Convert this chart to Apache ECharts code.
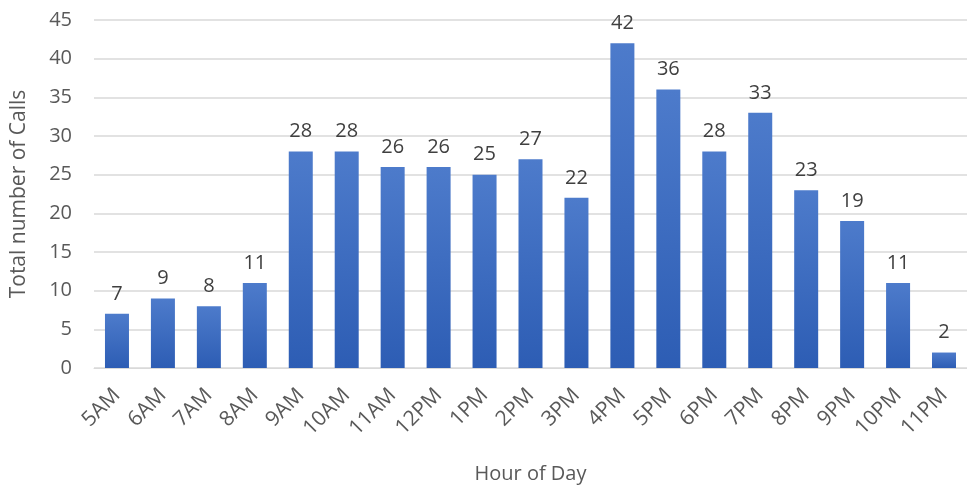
<!DOCTYPE html>
<html>
<head>
<meta charset="utf-8">
<script src="https://cdn.jsdelivr.net/npm/echarts@6/dist/echarts.min.js"></script>
<style>html,body{margin:0;padding:0;background:#fff}#c{width:967px;height:491px}</style>
</head>
<body>
<div id="c"></div>
<script>
const categories = ['5AM','6AM','7AM','8AM','9AM','10AM','11AM','12PM','1PM','2PM','3PM','4PM','5PM','6PM','7PM','8PM','9PM','10PM','11PM'];
const calls = [7,9,8,11,28,28,26,26,25,27,22,42,36,28,33,23,19,11,2];
const yTicks = [0,5,10,15,20,25,30,35,40,45];

const chart = echarts.init(document.getElementById('c'), null, {renderer:'canvas'});
const font = '"Open Sans", sans-serif';
chart.setOption({
  animation: false,
  grid: {left: 94, top: 20, height: 348, width: 879, containLabel: false},
  xAxis: {
    type: 'category',
    data: categories,
    name: 'Hour of Day',
    nameLocation: 'middle',
    nameGap: 96,
    nameTextStyle: {fontFamily: font, fontSize: 20, color: '#595959'},
    axisLine: {lineStyle: {color: '#d9d9d9', width: 1}},
    axisTick: {show: false},
    axisLabel: {rotate: 45, margin: 24, fontFamily: font, fontSize: 21, color: '#595959', interval: 0}
  },
  yAxis: {
    type: 'value',
    min: yTicks[0],
    max: yTicks[yTicks.length-1],
    interval: 5,
    name: 'Total number of Calls',
    nameLocation: 'middle',
    nameGap: 64,
    nameTextStyle: {fontFamily: font, fontSize: 21, color: '#595959'},
    axisLine: {show: false},
    axisTick: {show: false},
    splitLine: {lineStyle: {color: '#d9d9d9', width: 1.5}},
    axisLabel: {margin: 22, fontFamily: font, fontSize: 20, color: '#595959'}
  },
  series: [{
    type: 'bar',
    data: calls,
    barWidth: 24,
    itemStyle: {
      color: new echarts.graphic.LinearGradient(0,0,0,1,[
        {offset:0, color:'#4d7bcb'},
        {offset:1, color:'#2d5db4'}
      ])
    },
    label: {show: true, position: 'top', distance: 10, fontFamily: font, fontSize: 20, color: '#404040'}
  }]
});
</script>
</body>
</html>
